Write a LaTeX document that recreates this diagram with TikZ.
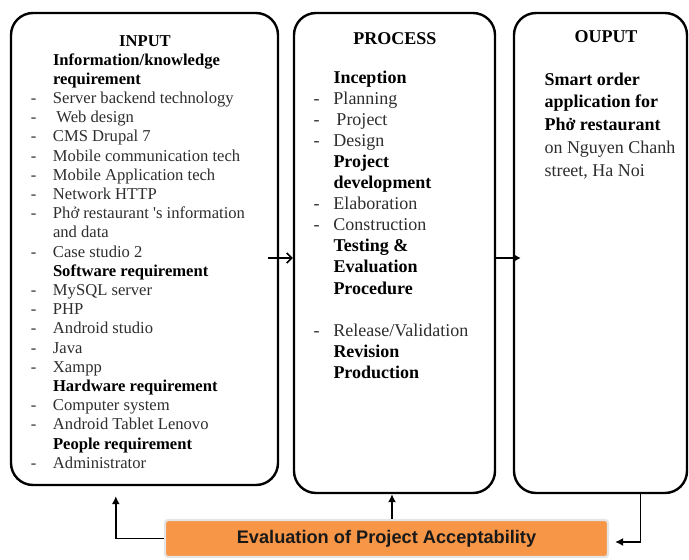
\documentclass[tikz,border=0pt]{standalone}
\usepackage{fontspec}
\setmainfont{Liberation Serif}
\newfontfamily\arialfont{Liberation Sans}
\usetikzlibrary{arrows.meta,calc}
\definecolor{orangefill}{HTML}{F79646}
\definecolor{txtgray}{HTML}{2E2E2E}
\newcommand\B[1]{{\bfseries\color{black}#1}}
\newcommand\Di[1]{\llap{-\hspace{16.5pt}}#1}
\newcommand\Dp[1]{\llap{-\hspace{14pt}}#1}
\begin{document}
\begin{tikzpicture}[x=1pt,y=-1pt,
  box/.style={draw=black,line width=2.4pt,rounded corners=22pt,inner sep=0pt,fill=white},
  txtline/.style={anchor=base west,inner sep=0pt,outer sep=0pt,text=txtgray},
  title/.style={anchor=base,inner sep=0pt,outer sep=0pt,font=\bfseries},
  headarrow/.style={line width=1.4pt,-{Latex[length=8pt,width=8pt]}},
  barbarrow/.style={line width=1.6pt,-{Straight Barb[length=5pt,width=10pt]}},
  midarrow/.style={line width=1.6pt,-{Latex[length=7pt,width=8pt]}}
]
\useasboundingbox (0,0) rectangle (689,560);

% boxes
\node[box,minimum width=267pt,minimum height=472pt] (inp) at (144.5,249) {};
\node[box,minimum width=201pt,minimum height=480pt] (proc) at (394.5,253) {};
\node[box,minimum width=173pt,minimum height=480pt] (outp) at (600.5,253) {};

% titles
\node[title,font=\bfseries\fontsize{16.6}{19}\selectfont] (tin) at (145,46) {INPUT};
\node[title,font=\bfseries\fontsize{18}{21}\selectfont] (tpr) at (395,44) {PROCESS};
\node[title,font=\bfseries\fontsize{18}{21}\selectfont] (tou) at (606,42) {OUPUT};

% input lines
\foreach \t [count=\i from 0] in {
  {\B{Information/knowledge}},
  {\B{requirement}},
  {\Di{Server backend technology}},
  {\Di{\hspace{3.5pt}Web design}},
  {\Di{CMS Drupal 7}},
  {\Di{Mobile communication tech}},
  {\Di{Mobile Application tech}},
  {\Di{Network HTTP}},
  {\Di{Phở restaurant \textquotesingle s information}},
  {and data},
  {\Di{Case studio 2}},
  {\B{Software requirement}},
  {\Di{MySQL server}},
  {\Di{PHP}},
  {\Di{Android studio}},
  {\Di{Java}},
  {\Di{Xampp}},
  {\B{Hardware requirement}},
  {\Di{Computer system}},
  {\Di{Android Tablet Lenovo}},
  {\B{People requirement}},
  {\Di{Administrator}}}
  \node[txtline,font=\fontsize{16.6}{19}\selectfont] (in\i) at (53,65+19.2*\i) {\t};

% process lines
\foreach \t [count=\i from 0] in {
  {\B{Inception}},
  {\Dp{Planning}},
  {\Dp{\hspace{3pt}Project}},
  {\Dp{Design}},
  {\B{Project}},
  {\B{development}},
  {\Dp{Elaboration}},
  {\Dp{Construction}},
  {\B{Testing \&}},
  {\B{Evaluation}},
  {\B{Procedure}}}
  \node[txtline,font=\fontsize{18}{21}\selectfont] (pr\i) at (333.5,83.3+21.07*\i) {\t};
\foreach \t [count=\i from 12] in {
  {\Dp{Release/Validation}},
  {\B{Revision}},
  {\B{Production}}}
  \node[txtline,font=\fontsize{18}{21}\selectfont] (pr\i) at (333.5,83.3+21.07*\i) {\t};

% output lines
\foreach \t [count=\i from 0] in {
  {\B{Smart order}},
  {\B{application for}},
  {\B{Phở restaurant}},
  {on Nguyen Chanh},
  {street, Ha Noi}}
  \node[txtline,font=\fontsize{18}{21}\selectfont] (ou\i) at (544.5,85+22.9*\i) {\t};

% evaluation box
\node[fill=orangefill,draw=black!10,line width=2.2pt,rounded corners=3pt,
      minimum width=443pt,minimum height=37pt,inner sep=0pt]
  (eval) at (386.5,538.5)
  {\arialfont\bfseries\fontsize{18.2}{20}\selectfont\color{black!90}Evaluation of Project Acceptability};

% connectors
\coordinate (ylev) at (0,258);
\coordinate (a1s) at ($(inp.east |- ylev)+(-11,0)$);
\draw[barbarrow] (a1s) -- (proc.west |- ylev);
\coordinate (a2e) at ($(outp.west |- ylev)+(8,0)$);
\draw[midarrow] (proc.east |- ylev) -- (a2e);
\coordinate (a3e) at ($(inp.south west)+(106,10)$);
\draw[headarrow] (eval.west) -| (a3e);
\coordinate (a4s) at ($(proc.south |- eval.north)+(-2.5,0)$);
\coordinate (a4e) at ($(proc.south)+(-2.5,0)$);
\draw[headarrow] (a4s) -- (a4e);
\coordinate (a5s) at ($(outp.south)+(40,0)$);
\coordinate (a5e) at ($(eval.east)+(6,3.5)$);
\draw[headarrow] (a5s) |- (a5e);
\end{tikzpicture}
\end{document}
